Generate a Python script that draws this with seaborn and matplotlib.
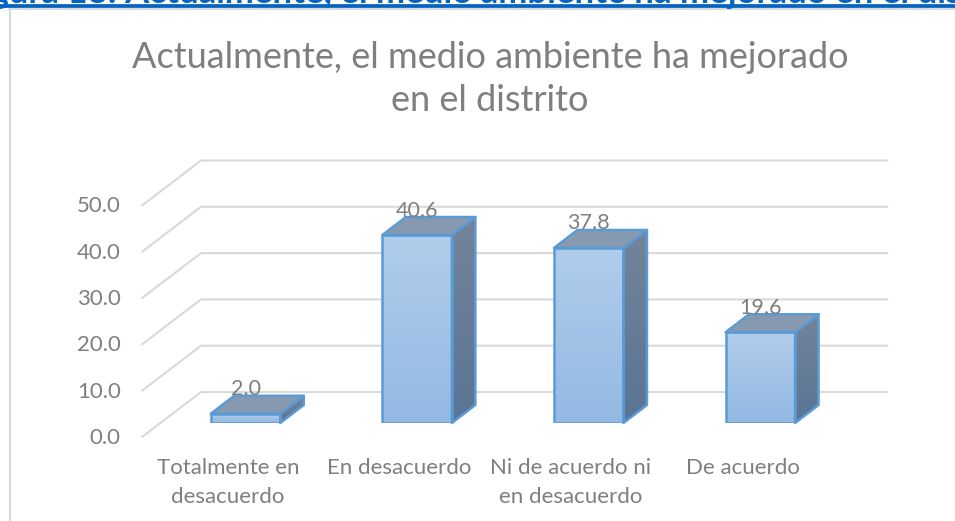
import numpy as np
import pandas as pd
import seaborn as sns
import matplotlib.pyplot as plt
from matplotlib.patches import Polygon
from matplotlib.transforms import ScaledTranslation

categorias = ['Totalmente en\ndesacuerdo', 'En desacuerdo', 'Ni de acuerdo ni\nen desacuerdo', 'De acuerdo']
valores = [2.0, 40.6, 37.8, 19.6]
ticks_y = [0, 10, 20, 30, 40, 50]

titulo = 'Actualmente, el medio ambiente ha mejorado\nen el distrito'
encabezado = 'Figura 18: Actualmente, el medio ambiente ha mejorado en el distrito'

sns.set_theme(style='white')
plt.rcParams['font.family'] = ['Lato', 'DejaVu Sans']

W, H = 955, 521
GRIS = '#7f7f7f'
REJILLA = '#d9d9d9'
BORDE = '#5b9bd5'

fig = plt.figure(figsize=(W / 100, H / 100), dpi=100)

# el plano de las barras: categorias cada 171.6 px, 46.3 px por cada 10 unidades
izq, der = 159.7, 846.1
base, tope = 423, 423 - 231.5
ax = fig.add_axes([izq / W, 1 - base / H, (der - izq) / W, (base - tope) / H])

df = pd.DataFrame({'categoria': categorias, 'valor': valores})
sns.barplot(data=df, x='categoria', y='valor', ax=ax, width=0.405, color='#a3c2e7',
            edgecolor=BORDE, linewidth=1.8, saturation=1, zorder=3)
ax.set_xlim(-0.5, 3.5)
ax.set_ylim(0, 50)
ax.set_xlabel('')
ax.set_ylabel('')
sns.despine(ax=ax, left=True, bottom=True)

# profundidad en unidades de datos
px_x = 4 / (der - izq)
px_y = 50 / (base - tope)
frente = (-17.7 * px_x, -14 * px_y)
fondo = (41.3 * px_x, 31 * px_y)
prof = (23.5 * px_x, 18 * px_y)

for v in ticks_y:
    ax.plot([-0.5 + frente[0], -0.5 + fondo[0], 3.5 + fondo[0]],
            [v + frente[1], v + fondo[1], v + fondo[1]],
            color=REJILLA, lw=1.5, clip_on=False, zorder=1)


def gradiente(ext, c1, c2, clip):
    arr = np.linspace(0, 1, 64)[:, None, None] * (np.array(c2) - np.array(c1)) + np.array(c1)
    im = ax.imshow(arr, extent=ext, origin='upper', aspect='auto', zorder=clip.get_zorder() - 0.1,
                   interpolation='bilinear')
    im.set_clip_path(clip)
    im.set_clip_on(True)


def rgb(c):
    return [int(c[i:i + 2], 16) / 255 for i in (1, 3, 5)]


for p, v in zip(list(ax.patches), valores):
    x0, x1 = p.get_x(), p.get_x() + p.get_width()
    dx, dy = prof
    lado = Polygon([(x1, 0), (x1 + dx, dy), (x1 + dx, v + dy), (x1, v)], closed=True, facecolor='none',
                   edgecolor=BORDE, lw=1.8, zorder=3, clip_on=False, joinstyle='round')
    arriba = Polygon([(x0, v), (x0 + dx, v + dy), (x1 + dx, v + dy), (x1, v)], closed=True, facecolor='#8799b0',
                     edgecolor=BORDE, lw=1.8, zorder=3, clip_on=False, joinstyle='round')
    ax.add_patch(lado)
    ax.add_patch(arriba)
    gradiente((x1, x1 + dx, 0, v + dy), rgb('#73849b'), rgb('#5a7595'), lado)
    p.set_facecolor('none')
    gradiente((x0, x1, 0, v), rgb('#b0cdeb'), rgb('#94b9e3'), p)
    # la etiqueta queda sobre el borde de atras de la cara superior
    ax.text((x0 + x1) / 2, v + 24.5 * px_y, f'{v:.1f}', ha='center', va='center', fontsize=15.5,
            color=GRIS, zorder=5, clip_on=False)

ax.set_xlim(-0.5, 3.5)
ax.set_ylim(0, 50)

# etiquetas de los ejes: van en el plano frontal del piso
ax.set_yticks(ticks_y)
ax.set_yticklabels([f'{v:.1f}' for v in ticks_y])
ax.tick_params(axis='y', length=0, pad=28, labelsize=16, labelcolor=GRIS)
ax.tick_params(axis='x', length=0, pad=25, labelsize=16, labelcolor=GRIS)
desp_y = ScaledTranslation(0, -13 / 100, fig.dpi_scale_trans)
desp_x = ScaledTranslation(-17.7 / 100, 0, fig.dpi_scale_trans)
for t in ax.get_yticklabels():
    t.set_transform(t.get_transform() + desp_y)
for t in ax.get_xticklabels():
    t.set_transform(t.get_transform() + desp_x)
    t.set_linespacing(1.55)

fig.text(490 / W, 1 - 79 / H, titulo, ha='center', va='center', fontsize=26, color=GRIS, linespacing=1.4)

# marco del grafico y encabezado cortado del documento
fig.add_artist(plt.Line2D([10 / W, 10 / W], [0, 1 - 8.5 / H], color=REJILLA, lw=1.6))
fig.add_artist(plt.Line2D([9 / W, 1], [1 - 8.5 / H, 1 - 8.5 / H], color=REJILLA, lw=1.4))
fig.text(495 / W, 1 - 3 / H, encabezado, ha='center', va='baseline', fontsize=25, fontweight='bold', color='#0563c1')
fig.add_artist(plt.Line2D([0, 1], [1 - 5.8 / H, 1 - 5.8 / H], color='#0563c1', lw=2.7))

fig.savefig('out.png', dpi=100)
